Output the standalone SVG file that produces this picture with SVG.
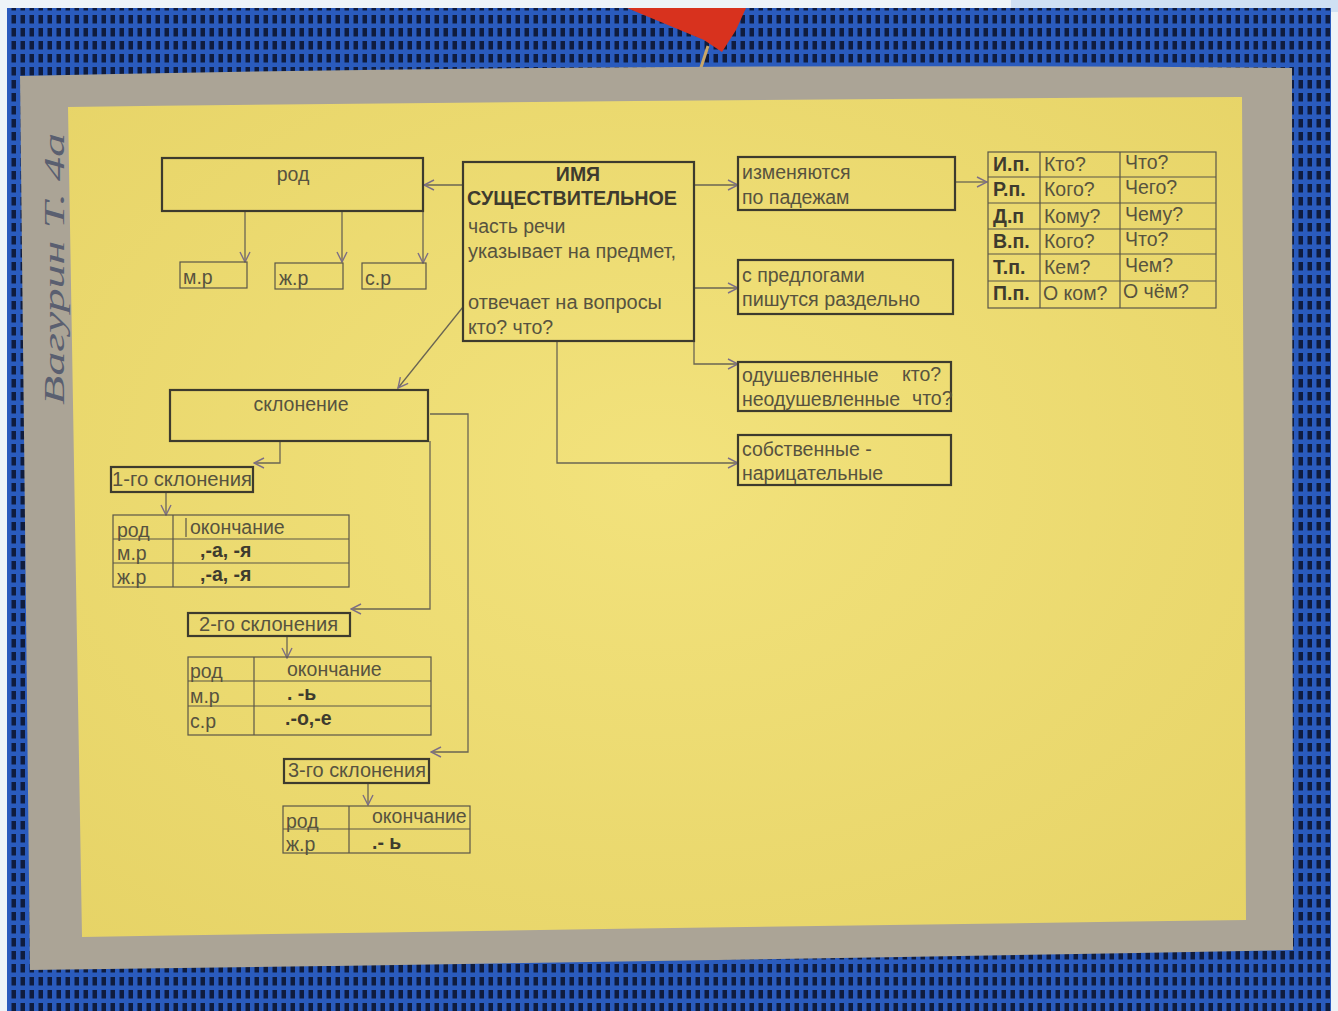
<svg xmlns="http://www.w3.org/2000/svg" width="1338" height="1011" viewBox="0 0 1338 1011">
<style>
.box{fill:none;stroke:#3d3b2e;stroke-width:2.2}
.tbl{fill:none;stroke:#5a5648;stroke-width:1.2}
.t{font-family:"Liberation Sans",Arial,sans-serif;fill:#57533f;font-size:19.5px}
.b{font-weight:bold;fill:#3e3b2e}
.ca{stroke:#6a6553;stroke-width:1.3;fill:none;marker-end:url(#arr)}
</style>
<defs>
<pattern id="mesh" width="9" height="13" patternUnits="userSpaceOnUse">
<rect width="9" height="13" fill="#2a5bbd"/>
<rect x="2.5" y="2" width="4.5" height="8.5" fill="#0f1c3e"/>
</pattern>
<radialGradient id="paper" cx="0.5" cy="0.45" r="0.75">
<stop offset="0" stop-color="#f2e27c"/>
<stop offset="1" stop-color="#e6d366"/>
</radialGradient>
<marker id="arr" viewBox="0 0 12 12" refX="11" refY="6" markerWidth="12" markerHeight="12" markerUnits="userSpaceOnUse" orient="auto">
<path d="M1,1 L11,6 L1,11" fill="none" stroke="#7d6f86" stroke-width="1.4"/>
</marker>
</defs>
<!-- photo background -->
<rect width="1338" height="1011" fill="#eef4f8"/>
<rect x="1011" y="0" width="327" height="12" fill="#cfe0f3"/>
<rect x="7" y="8" width="1324" height="1003" fill="url(#mesh)"/>
<polygon points="627,8 746,8 736,30 722,52 704,40" fill="#d8321e"/>
<line x1="708" y1="46" x2="693" y2="92" stroke="#c9a768" stroke-width="3"/>
<circle cx="693" cy="92" r="2.5" fill="#6d6a60"/>
<!-- cardboard -->
<path d="M20,76 Q650,62 1292,68 L1293,950 Q660,962 30,970 Z" fill="#aba496"/>
<text x="0" y="0" transform="translate(64,405) rotate(-90)" font-family="'Liberation Serif',serif" font-style="italic" font-size="30" fill="#5a5f70" textLength="272" lengthAdjust="spacingAndGlyphs">Вагурин Т. 4а</text>
<!-- paper -->
<path d="M68,107 Q650,100 1242,97 L1246,920 Q660,928 82,937 Z" fill="url(#paper)"/>

<!-- connectors -->
<g id="connectors">
<line class="ca" x1="463" y1="185" x2="424" y2="185"/>
<line class="ca" x1="245" y1="211" x2="245" y2="262"/>
<line class="ca" x1="342" y1="211" x2="342" y2="262"/>
<line class="ca" x1="423" y1="211" x2="423" y2="263"/>
<line class="ca" x1="694" y1="185" x2="738" y2="185"/>
<line class="ca" x1="955" y1="182" x2="987" y2="182"/>
<line class="ca" x1="694" y1="288" x2="738" y2="288"/>
<path class="ca" d="M694,341 V364 H738"/>
<path class="ca" d="M557,341 V463 H738"/>
<line class="ca" x1="463" y1="307" x2="398" y2="388"/>
<path class="ca" d="M280,441 V463 H254"/>
<line class="ca" x1="166" y1="492" x2="166" y2="515"/>
<path class="ca" d="M430,441 V609 H351"/>
<path class="ca" d="M430,414 H468 V752 H431"/>
<line class="ca" x1="287" y1="636" x2="287" y2="658"/>
<line class="ca" x1="368" y1="783" x2="368" y2="805"/>
</g>

<g id="rod">
<rect class="box" x="162" y="158" width="261" height="53"/>
<text class="t" x="293" y="181" text-anchor="middle">род</text>
</g>
<g id="mr">
<rect class="tbl" x="180" y="262" width="67" height="26"/>
<text class="t" x="183" y="284">м.р</text>
</g>
<g id="zhr">
<rect class="tbl" x="275" y="263" width="68" height="26"/>
<text class="t" x="279" y="285">ж.р</text>
</g>
<g id="sr">
<rect class="tbl" x="362" y="263" width="64" height="26"/>
<text class="t" x="365" y="285">с.р</text>
</g>

<g id="main">
<rect class="box" x="463" y="162" width="231" height="179"/>
<text class="t b" x="578" y="181" text-anchor="middle" font-size="19">ИМЯ</text>
<text class="t b" x="467" y="205" font-size="19" textLength="210" lengthAdjust="spacingAndGlyphs">СУЩЕСТВИТЕЛЬНОЕ</text>
<text class="t" x="468" y="233">часть речи</text>
<text class="t" x="468" y="258" textLength="208" lengthAdjust="spacingAndGlyphs">указывает на предмет,</text>
<text class="t" x="468" y="309" textLength="194" lengthAdjust="spacingAndGlyphs">отвечает на вопросы</text>
<text class="t" x="468" y="334">кто? что?</text>
</g>

<g id="padezhi">
<rect class="box" x="738" y="157" width="217" height="53"/>
<text class="t" x="742" y="179">изменяются</text>
<text class="t" x="742" y="204">по падежам</text>
</g>
<g id="predlogi">
<rect class="box" x="738" y="260" width="215" height="54"/>
<text class="t" x="742" y="282">с предлогами</text>
<text class="t" x="742" y="306" textLength="178" lengthAdjust="spacingAndGlyphs">пишутся раздельно</text>
</g>
<g id="odush">
<rect class="box" x="738" y="362" width="213" height="49"/>
<text class="t" x="742" y="382">одушевленные</text>
<text class="t" x="902" y="381">кто?</text>
<text class="t" x="742" y="406">неодушевленные</text>
<text class="t" x="912" y="405">что?</text>
</g>
<g id="sobstv">
<rect class="box" x="738" y="435" width="213" height="50"/>
<text class="t" x="742" y="456">собственные -</text>
<text class="t" x="742" y="480">нарицательные</text>
</g>

<g id="cases">
<rect class="tbl" x="988" y="152" width="228" height="156"/>
<line class="tbl" x1="1040" y1="152" x2="1040" y2="308"/>
<line class="tbl" x1="1120" y1="152" x2="1120" y2="308"/>
<line class="tbl" x1="988" y1="177" x2="1216" y2="177"/>
<line class="tbl" x1="988" y1="203" x2="1216" y2="203"/>
<line class="tbl" x1="988" y1="229" x2="1216" y2="229"/>
<line class="tbl" x1="988" y1="254" x2="1216" y2="254"/>
<line class="tbl" x1="988" y1="281" x2="1216" y2="281"/>
<text class="t b" x="993" y="171">И.п.</text><text class="t" x="1044" y="171">Кто?</text><text class="t" x="1125" y="169">Что?</text>
<text class="t b" x="993" y="196">Р.п.</text><text class="t" x="1044" y="196">Кого?</text><text class="t" x="1125" y="194">Чего?</text>
<text class="t b" x="993" y="223">Д.п</text><text class="t" x="1044" y="223">Кому?</text><text class="t" x="1125" y="221">Чему?</text>
<text class="t b" x="993" y="248">В.п.</text><text class="t" x="1044" y="248">Кого?</text><text class="t" x="1125" y="246">Что?</text>
<text class="t b" x="993" y="274">Т.п.</text><text class="t" x="1044" y="274">Кем?</text><text class="t" x="1125" y="272">Чем?</text>
<text class="t b" x="993" y="300">П.п.</text><text class="t" x="1043" y="300">О ком?</text><text class="t" x="1123" y="298">О чём?</text>
</g>

<g id="sklonenie">
<rect class="box" x="170" y="390" width="258" height="51"/>
<text class="t" x="301" y="411" text-anchor="middle">склонение</text>
</g>

<g id="skl1">
<rect class="box" x="111" y="467" width="142" height="25"/>
<text class="t" x="112" y="486" textLength="140" lengthAdjust="spacingAndGlyphs">1-го склонения</text>
</g>
<g id="table1">
<rect class="tbl" x="113" y="515" width="236" height="72"/>
<line class="tbl" x1="173" y1="515" x2="173" y2="587"/>
<line class="tbl" x1="113" y1="539" x2="349" y2="539"/>
<line class="tbl" x1="113" y1="563" x2="349" y2="563"/>
<line class="tbl" x1="186" y1="518" x2="186" y2="537"/>
<text class="t" x="117" y="537">род</text><text class="t" x="190" y="534">окончание</text>
<text class="t" x="117" y="560">м.р</text><text class="t b" x="200" y="557" font-size="18">,-а, -я</text>
<text class="t" x="117" y="584">ж.р</text><text class="t b" x="200" y="581" font-size="18">,-а, -я</text>
</g>

<g id="skl2">
<rect class="box" x="188" y="613" width="162" height="23"/>
<text class="t" x="199" y="631" textLength="139" lengthAdjust="spacingAndGlyphs">2-го склонения</text>
</g>
<g id="table2">
<rect class="tbl" x="188" y="657" width="243" height="78"/>
<line class="tbl" x1="254" y1="657" x2="254" y2="735"/>
<line class="tbl" x1="188" y1="681" x2="431" y2="681"/>
<line class="tbl" x1="188" y1="706" x2="431" y2="706"/>
<text class="t" x="190" y="678">род</text><text class="t" x="287" y="676">окончание</text>
<text class="t" x="190" y="703">м.р</text><text class="t b" x="287" y="700" font-size="18">. -ь</text>
<text class="t" x="190" y="728">с.р</text><text class="t b" x="285" y="725" font-size="18">.-о,-е</text>
</g>

<g id="skl3">
<rect class="box" x="284" y="759" width="145" height="24"/>
<text class="t" x="288" y="777" textLength="138" lengthAdjust="spacingAndGlyphs">3-го склонения</text>
</g>
<g id="table3">
<rect class="tbl" x="283" y="806" width="187" height="47"/>
<line class="tbl" x1="349" y1="806" x2="349" y2="853"/>
<line class="tbl" x1="283" y1="829" x2="470" y2="829"/>
<text class="t" x="286" y="828">род</text><text class="t" x="372" y="823">окончание</text>
<text class="t" x="286" y="851">ж.р</text><text class="t b" x="372" y="849" font-size="18">.- ь</text>
</g>
</svg>
